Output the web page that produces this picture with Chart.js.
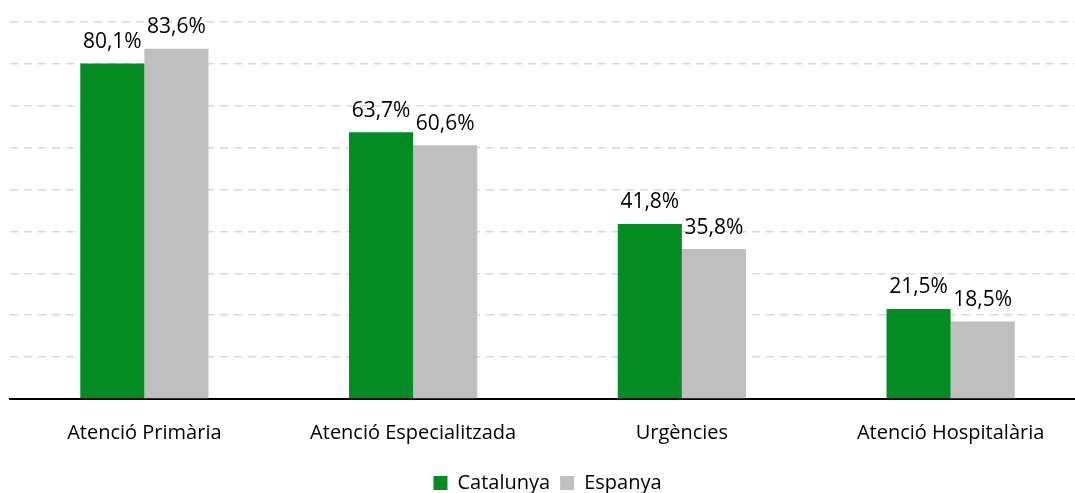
<!DOCTYPE html>
<html><head><meta charset="utf-8">
<script src="https://cdn.jsdelivr.net/npm/chart.js@4/dist/chart.umd.min.js"></script>
<style>html,body{margin:0;padding:0;background:#fff;overflow:hidden}#wrap{width:1075px;height:493px;overflow:hidden}</style>
</head><body><div id="wrap"><canvas id="c" width="1085" height="493"></canvas></div>
<script>
const categories = ["Atenció Primària", "Atenció Especialitzada", "Urgències", "Atenció Hospitalària"];
const catalunya = [80.1, 63.7, 41.8, 21.5];
const espanya = [83.6, 60.6, 35.8, 18.5];
const seriesNames = ["Catalunya", "Espanya"];
const FONT = "'Open Sans', Lato, sans-serif";

const labelPlugin = {
  id: 'labels',
  afterDatasetsDraw(chart) {
    const ctx = chart.ctx;
    ctx.save();
    ctx.font = "21px " + FONT;
    ctx.fillStyle = "#000";
    ctx.textAlign = "center";
    ctx.textBaseline = "bottom";
    chart.data.datasets.forEach((ds, i) => {
      chart.getDatasetMeta(i).data.forEach((bar, j) => {
        ctx.fillText(ds.data[j].toFixed(1).replace('.', ',') + '%', bar.x, bar.y - 11);
      });
    });
    ctx.restore();
  }
};

new Chart(document.getElementById('c'), {
  type: 'bar',
  data: {
    labels: categories,
    datasets: [
      { label: seriesNames[0], data: catalunya, backgroundColor: '#038C24' },
      { label: seriesNames[1], data: espanya, backgroundColor: '#BFBFBF' }
    ]
  },
  options: {
    responsive: false,
    animation: false,
    layout: { padding: { left: 10, right: 0, top: 22, bottom: -10 } },
    datasets: { bar: { barPercentage: 1, categoryPercentage: 0.477 } },
    scales: {
      x: {
        grid: { display: false },
        border: { display: true, color: '#000', width: 2 },
        ticks: { color: '#000', font: { family: FONT, size: 20 }, padding: 14 },
        afterFit(scale) { scale.height += 4; }
      },
      y: {
        min: 0, max: 90,
        ticks: { display: false, stepSize: 10 },
        border: { display: false, dash: [8, 6] },
        grid: { color: '#D9D9D9', lineWidth: 1.5, drawTicks: false }
      }
    },
    plugins: {
      legend: {
        position: 'bottom',
        labels: { color: '#000', font: { family: FONT, size: 20 }, boxWidth: 14, boxHeight: 14, padding: 10 }
      },
      tooltip: { enabled: false }
    }
  },
  plugins: [labelPlugin]
});
</script></body></html>
